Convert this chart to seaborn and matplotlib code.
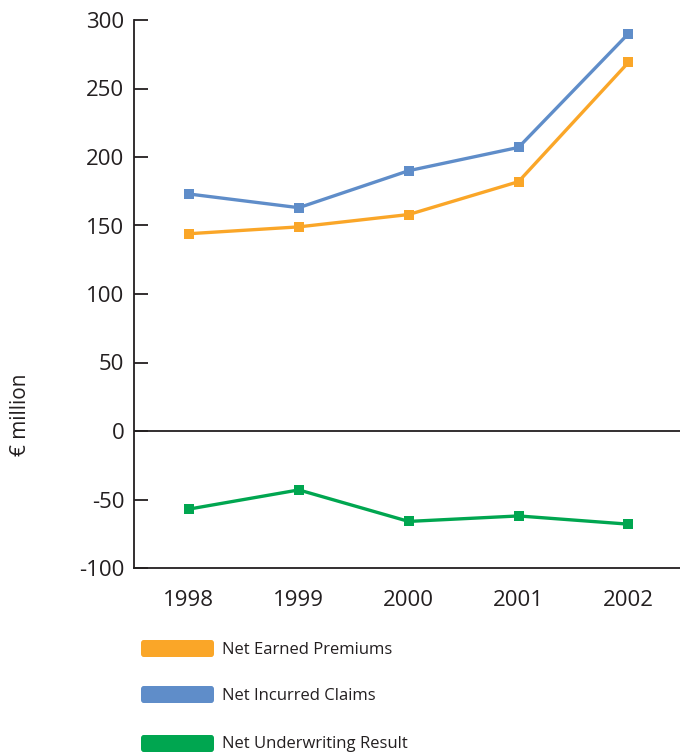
import matplotlib
matplotlib.use("Agg")
import matplotlib.pyplot as plt
from matplotlib.patches import FancyBboxPatch
import seaborn as sns
import pandas as pd

# Series (EUR million)
years = [1998, 1999, 2000, 2001, 2002]
net_earned_premiums = [144, 149, 158, 182, 269]
net_incurred_claims = [173, 163, 190, 207, 290]
net_underwriting_result = [-57, -43, -66, -62, -68]

series_names = ["Net Earned Premiums", "Net Incurred Claims", "Net Underwriting Result"]
series_colors = ["#FAA628", "#5F8DC9", "#00A650"]
y_ticks = [-100, -50, 0, 50, 100, 150, 200, 250, 300]

df = pd.DataFrame({
    "year": years * 3,
    "value": net_earned_premiums + net_incurred_claims + net_underwriting_result,
    "series": [s for s in series_names for _ in years],
})

sns.set_style("white")
plt.rcParams["font.family"] = ["Open Sans", "DejaVu Sans"]
ink = "#231F20"

fig = plt.figure(figsize=(6.8, 7.54), dpi=100)
ax = fig.add_axes([134 / 680, 1 - 568 / 754, 1 - 134 / 680, (568 - 20) / 754])

sns.lineplot(
    data=df, x="year", y="value", hue="series", hue_order=series_names,
    palette=series_colors, style="series", markers=["s", "s", "s"], dashes=False,
    markersize=7.5, markeredgewidth=0, linewidth=2.4, legend=False, ax=ax,
)

ax.set_xlim(1997.5, 2002.47)
ax.set_ylim(-100, 300)
ax.set_xticks(years)
ax.set_xticklabels([str(y) for y in years])
ax.set_yticks(y_ticks)
ax.set_yticklabels([str(v) for v in y_ticks])
ax.set_xlabel("")
ax.set_ylabel("")

ax.axhline(0, color=ink, linewidth=1.3, zorder=1)

for side in ["top", "right"]:
    ax.spines[side].set_visible(False)
for side in ["left", "bottom"]:
    ax.spines[side].set_color(ink)
    ax.spines[side].set_linewidth(1.3)

ax.tick_params(axis="y", left=True, direction="in", length=10, width=1.3, color=ink,
               labelsize=16, labelcolor=ink, pad=7)
ax.tick_params(axis="x", bottom=False, length=0, labelsize=16, labelcolor=ink, pad=16)

fig.text(20 / 680, 1 - 415 / 754, "€ million", rotation=90, ha="center", va="center",
         fontsize=15, color=ink)

# Legend swatches and labels below the plot
legend_tops = [640, 686, 735]
for name, color, top in zip(series_names, series_colors, legend_tops):
    h = 17
    patch = FancyBboxPatch(
        (141 / 680, 1 - (top + h) / 754), 73 / 680, h / 754,
        boxstyle="round,pad=0,rounding_size=0.004",
        transform=fig.transFigure, facecolor=color, edgecolor="none",
    )
    fig.patches.append(patch)
    fig.text(222 / 680, 1 - (top + h / 2 + 1) / 754, name, ha="left", va="center",
             fontsize=12, color=ink)

fig.savefig("out.png", dpi=100)
